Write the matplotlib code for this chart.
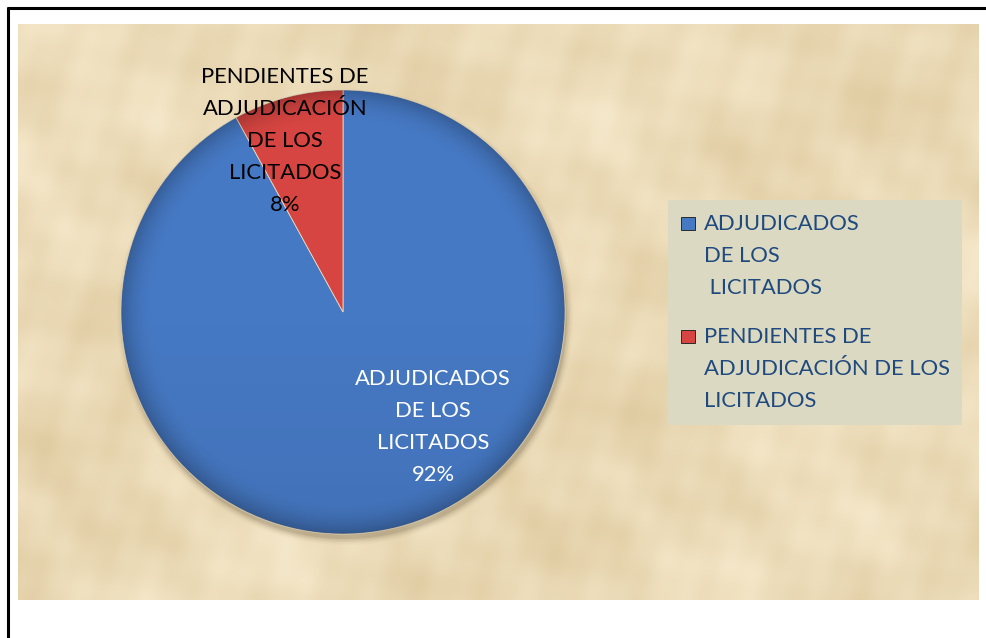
import numpy as np
import matplotlib
matplotlib.use("Agg")
import matplotlib.pyplot as plt
from matplotlib.patches import Rectangle, Ellipse

plt.rcParams['font.family'] = ['Lato', 'DejaVu Sans']

# ---- data ----
categories = ["ADJUDICADOS DE LOS LICITADOS", "PENDIENTES DE ADJUDICACIÓN DE LOS LICITADOS"]
values = [92, 8]
percent_labels = ["92%", "8%"]
legend_labels = ["ADJUDICADOS\nDE LOS\n LICITADOS", "PENDIENTES DE\nADJUDICACIÓN DE LOS\nLICITADOS"]
slice_labels = ["ADJUDICADOS\nDE LOS\nLICITADOS\n92%", "PENDIENTES DE\nADJUDICACIÓN\nDE LOS\nLICITADOS\n8%"]
colors = ["#4679c4", "#d64541"]

W, H = 987, 638
FS = 15.8
LS = 1.76
fig = plt.figure(figsize=(W / 100, H / 100), dpi=100)
fig.patch.set_facecolor("white")

# background axes in pixel coords
bg = fig.add_axes([0, 0, 1, 1], zorder=0)
bg.axis("off")

# parchment texture (deterministic)
ny, nx = 160, 260
yy, xx = np.mgrid[0:ny, 0:nx].astype(float)
tex = (np.sin(xx * 0.31 + np.sin(yy * 0.07) * 3) * 0.35
       + np.sin(yy * 0.19 + xx * 0.05 + 1.3) * 0.3
       + np.sin(xx * 0.11 - yy * 0.13 + 0.7) * 0.4
       + np.sin(xx * 0.73 + yy * 0.21) * 0.15
       + np.sin(yy * 0.57 - xx * 0.09 + 2.1) * 0.15
       + np.sin(xx * 0.045 + yy * 0.033) * 0.5)
tex = (tex - tex.min()) / (tex.max() - tex.min())
light = np.array([246, 233, 204]) / 255
dark = np.array([224, 204, 162]) / 255
img = dark[None, None, :] * (1 - tex[..., None]) + light[None, None, :] * tex[..., None]
bg.imshow(img, extent=(18, 979, 600, 24), interpolation="bicubic", aspect="auto", zorder=0)
bg.set_xlim(0, W)
bg.set_ylim(H, 0)

# frame lines (top and left)
bg.plot([7, W], [8, 8], color="black", lw=2.2, solid_capstyle="butt", zorder=1)
bg.plot([7.5, 7.5], [7, H], color="black", lw=2.2, solid_capstyle="butt", zorder=1)

# legend box
bg.add_patch(Rectangle((668, 200), 294, 225, facecolor="#dcd9c3", edgecolor="none", zorder=1))

# pie shadow
cx, cy, R = 343, 312, 222
for i, a in enumerate([0.10, 0.07, 0.05, 0.03, 0.02]):
    bg.add_patch(Ellipse((cx + 2, cy + 5), 2 * R + i * 3, 2 * R + i * 3,
                         facecolor="#3a2a10", alpha=a, edgecolor="none", zorder=1))

# pie axes
pax = fig.add_axes([(cx - R) / W, (H - cy - R) / H, 2 * R / W, 2 * R / H], zorder=1)
wedges, _ = pax.pie(values, colors=colors, startangle=90, counterclock=False, radius=1,
                    wedgeprops=dict(edgecolor="#e8dcc0", linewidth=0.6))

# subtle shading overlay
g = np.linspace(0, 1, 300)
GX, GY = np.meshgrid(g * 2 - 1, g * 2 - 1)
rr = np.sqrt(GX ** 2 + GY ** 2)
shade = np.clip((rr - 0.85) / 0.15, 0, 1) ** 2 * 0.22 + np.clip(-GY, 0, 1) * 0.06
for w in wedges:
    im = pax.imshow(np.dstack([np.zeros_like(shade)] * 3 + [shade]), extent=(-1, 1, -1, 1),
                    origin="lower", zorder=3, interpolation="bilinear")
    im.set_clip_path(w)
pax.set_xlim(-1, 1)
pax.set_ylim(-1, 1)
pax.set_aspect("auto")
pax.axis("off")

# overlay axes for text
tx = fig.add_axes([0, 0, 1, 1], zorder=2)
tx.set_xlim(0, W)
tx.set_ylim(H, 0)
tx.axis("off")
tx.patch.set_alpha(0)

# slice labels
tx.text(433, 427, slice_labels[0], color="white", fontsize=FS, ha="center", va="center",
        linespacing=LS)
tx.text(285, 141, slice_labels[1], color="black", fontsize=FS, ha="center", va="center",
        linespacing=LS)

# legend entries
for ycen, lab, col in [(256, legend_labels[0], colors[0]), (369, legend_labels[1], colors[1])]:
    ytop = ycen - 33
    tx.add_patch(Rectangle((681, ytop - 6), 14, 13, facecolor=col, edgecolor="#2a2a2a",
                           linewidth=0.7))
    tx.text(704, ycen, lab, color="#1f4a7e", fontsize=FS, ha="left", va="center",
            linespacing=LS)

fig.savefig("out.png", dpi=100, facecolor="white")
